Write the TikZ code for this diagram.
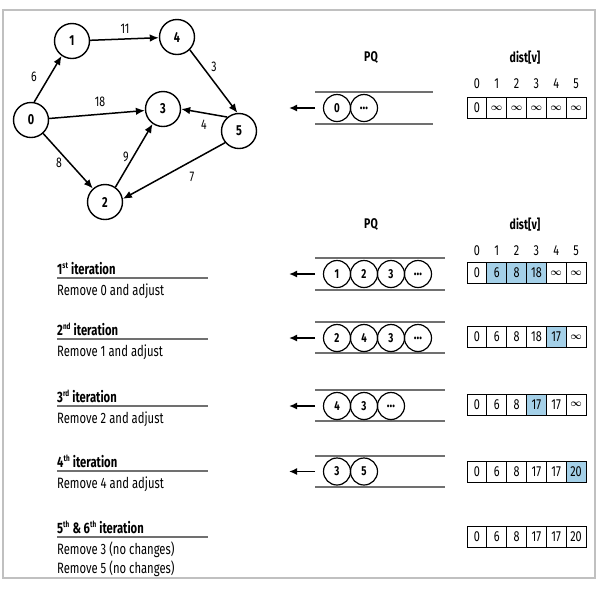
\documentclass[tikz,border=0pt]{standalone}
\usepackage{fontspec}
\setmainfont[FakeStretch=0.75]{Fira Sans}
\usepackage{xcolor}
\usepackage{amsmath}
\usetikzlibrary{arrows.meta}
\definecolor{hlblue}{RGB}{164,208,232}
\definecolor{linegray}{RGB}{112,112,112}
\definecolor{framegray}{RGB}{192,192,192}
\newcommand{\infsym}{{\fontsize{10}{10}\selectfont$\boldsymbol{\infty}$}}
\newcommand{\pqmore}{{\fontsize{15}{15}\selectfont\ldots}}
\newcommand{\ordsup}[1]{\textsuperscript{\fontsize{8.5}{8.5}\selectfont #1}}

\begin{document}
\begin{tikzpicture}[x=1pt,y=-1pt,
	vertex/.style={circle,draw,line width=1.4pt,minimum size=35pt,inner sep=0pt,font=\fontsize{14.5}{14.5}\selectfont\bfseries},
	edge/.style={line width=1.5pt,-{Latex[length=9pt,width=7.5pt]}},
	weight/.style={inner sep=0pt,font=\fontsize{14}{14}\selectfont},
	pqitem/.style={circle,draw,line width=1.2pt,minimum size=27pt,inner sep=0pt,font=\fontsize{13}{13}\selectfont\bfseries},
	pqline/.style={linegray,line width=1.4pt},
	pqarrow/.style={line width=1.6pt,-{Latex[length=8pt,width=7pt]}},
	cell/.style={draw,line width=0.9pt,minimum width=19.83pt,minimum height=21pt,inner sep=0pt,font=\fontsize{14.5}{14.5}\selectfont},
	head/.style={font=\fontsize{14}{14}\selectfont\bfseries},
	idx/.style={font=\fontsize{14.5}{14.5}\selectfont},
	iter/.style={anchor=base west,inner sep=0pt,font=\fontsize{15}{15}\selectfont\bfseries},
	note/.style={anchor=base west,inner sep=0pt,font=\fontsize{15}{15}\selectfont},
	rule/.style={linegray,line width=1.5pt}]
	\useasboundingbox (0,0) rectangle (604,590);
	\draw[framegray,line width=1.4pt] (3,10) rectangle (595,578);

	\node[vertex] (v0) at (31,120) {0};
	\node[vertex] (v1) at (72,41) {1};
	\node[vertex] (v4) at (177,37) {4};
	\node[vertex] (v3) at (163,109) {3};
	\node[vertex] (v5) at (239,131) {5};
	\node[vertex] (v2) at (105,202) {2};
	\draw[edge] (v0.80) -- (v1.235);
	\draw[edge] (v1) -- (v4);
	\draw[edge] (v4.-45) -- (v5.95);
	\draw[edge] (v0) -- (v3);
	\draw[edge] (v5.130) -- (v3.east);
	\draw[edge] (v0) -- (v2);
	\draw[edge] (v2.55) -- (v3.235);
	\draw[edge] (v5.220) -- (v2.10);
	\node[weight] (w01) at (34,77) {6};
	\node[weight] (w14) at (125,29) {11};
	\node[weight] (w45) at (214,67) {3};
	\node[weight] (w03) at (100,102) {18};
	\node[weight] (w53) at (204,125) {4};
	\node[weight] (w02) at (59,163) {8};
	\node[weight] (w23) at (126,157) {9};
	\node[weight] (w52) at (192,177) {7};

	\node[head] (pqh0) at (371,58) {PQ};
	\node[head] (dh0) at (525,58) {dist[v]};
	\foreach \i in {0,...,5} \node[idx] (ix0\i) at (476.9+19.83*\i,84) {\i};
	\draw[pqline] (315,92) -- (433,92);
	\draw[pqline] (315,124) -- (433,124);
	\foreach \q [count=\i from 0] in {0,\pqmore} \node[pqitem] (q0\i) at (337+27*\i,108) {\q};
	\coordinate (in0) at (315,108);
	\coordinate (out0) at (289,108);
	\draw[pqarrow] (in0) -- (out0);
	\foreach \v [count=\i from 0] in {0,\infsym,\infsym,\infsym,\infsym,\infsym} \node[cell] (d0\i) at (476.9+19.83*\i,108) {\v};

	\node[head] (pqh1) at (371,225) {PQ};
	\node[head] (dh1) at (525,225) {dist[v]};
	\foreach \i in {0,...,5} \node[idx] (ix1\i) at (476.9+19.83*\i,251) {\i};

	\node[iter] (t1) at (57,274) {1\ordsup{st} iteration};
	\draw[rule] (57,278) -- (208,278);
	\node[note] (n1) at (57,295) {Remove 0 and adjust};
	\draw[pqline] (315,258) -- (445,258);
	\draw[pqline] (315,290) -- (445,290);
	\foreach \q [count=\i from 0] in {1,2,3,\pqmore} \node[pqitem] (q1\i) at (337+27*\i,274) {\q};
	\coordinate (in1) at (315,274);
	\coordinate (out1) at (289,274);
	\draw[pqarrow] (in1) -- (out1);
	\foreach \v/\c [count=\i from 0] in {0/white,6/hlblue,8/hlblue,18/hlblue,\infsym/white,\infsym/white} \node[cell,fill=\c] (d1\i) at (476.9+19.83*\i,273) {\v};

	\node[iter] (t2) at (57,335) {2\ordsup{nd} iteration};
	\draw[rule] (57,339) -- (208,339);
	\node[note] (n2) at (57,356) {Remove 1 and adjust};
	\draw[pqline] (315,322) -- (445,322);
	\draw[pqline] (315,353) -- (445,353);
	\foreach \q [count=\i from 0] in {2,4,3,\pqmore} \node[pqitem] (q2\i) at (337+27*\i,338) {\q};
	\coordinate (in2) at (315,338);
	\coordinate (out2) at (289,338);
	\draw[pqarrow] (in2) -- (out2);
	\foreach \v/\c [count=\i from 0] in {0/white,6/white,8/white,18/white,17/hlblue,\infsym/white} \node[cell,fill=\c] (d2\i) at (476.9+19.83*\i,337) {\v};

	\node[iter] (t3) at (57,402) {3\ordsup{rd} iteration};
	\draw[rule] (57,406) -- (208,406);
	\node[note] (n3) at (57,423) {Remove 2 and adjust};
	\draw[pqline] (315,390) -- (445,390);
	\draw[pqline] (315,421) -- (445,421);
	\foreach \q [count=\i from 0] in {4,3,\pqmore} \node[pqitem] (q3\i) at (337+27*\i,406) {\q};
	\coordinate (in3) at (315,406);
	\coordinate (out3) at (289,406);
	\draw[pqarrow] (in3) -- (out3);
	\foreach \v/\c [count=\i from 0] in {0/white,6/white,8/white,17/hlblue,17/white,\infsym/white} \node[cell,fill=\c] (d3\i) at (476.9+19.83*\i,404.5) {\v};

	\node[iter] (t4) at (57,467) {4\ordsup{th} iteration};
	\draw[rule] (57,471) -- (208,471);
	\node[note] (n4) at (57,488) {Remove 4 and adjust};
	\draw[pqline] (315,456) -- (445,456);
	\draw[pqline] (315,487) -- (445,487);
	\foreach \q [count=\i from 0] in {3,5} \node[pqitem] (q4\i) at (337+27*\i,471.5) {\q};
	\coordinate (in4) at (315,471.5);
	\coordinate (out4) at (289,471.5);
	\draw[pqarrow] (in4) -- (out4);
	\foreach \v/\c [count=\i from 0] in {0/white,6/white,8/white,17/white,17/white,20/hlblue} \node[cell,fill=\c] (d4\i) at (476.9+19.83*\i,471.5) {\v};

	\node[iter] (t5) at (57,533) {5\ordsup{th} \& 6\ordsup{th} iteration};
	\draw[rule] (57,537) -- (208,537);
	\node[note] (n5) at (57,554) {Remove 3 (no changes)};
	\node[note] (n6) at (57,573) {Remove 5 (no changes)};
	\foreach \v [count=\i from 0] in {0,6,8,17,17,20} \node[cell] (d5\i) at (476.9+19.83*\i,536.5) {\v};
\end{tikzpicture}
\end{document}
